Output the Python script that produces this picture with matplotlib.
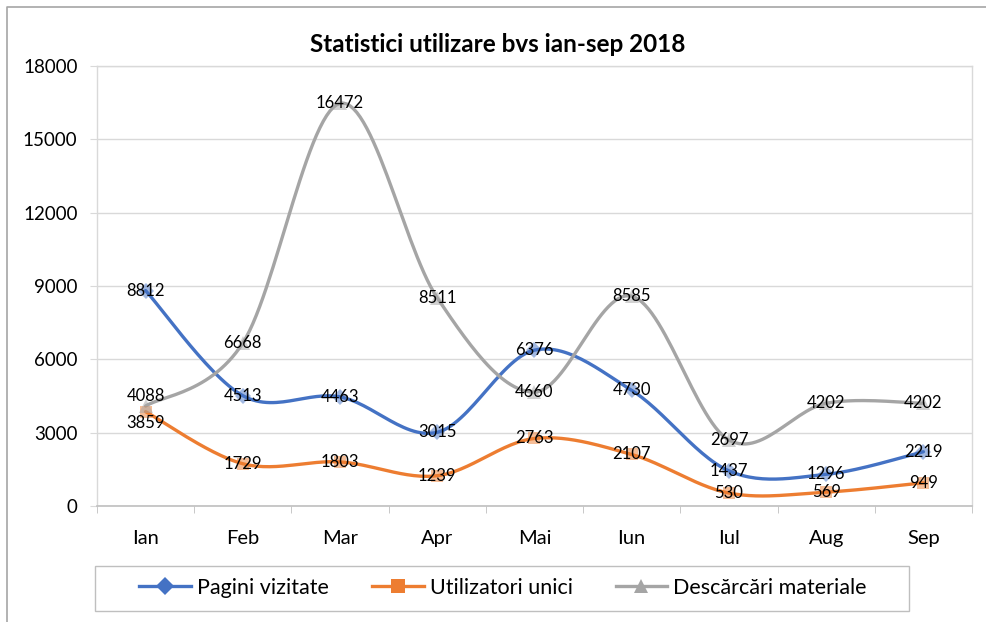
import numpy as np
import matplotlib
matplotlib.use("Agg")
import matplotlib.pyplot as plt
from matplotlib.lines import Line2D
from matplotlib.patches import Rectangle

plt.rcParams["font.family"] = ["Lato", "DejaVu Sans"]

months = ["Ian", "Feb", "Mar", "Apr", "Mai", "Iun", "Iul", "Aug", "Sep"]
pagini = [8812, 4513, 4463, 3015, 6376, 4730, 1437, 1296, 2219]
utilizatori = [3859, 1729, 1803, 1239, 2763, 2107, 530, 569, 949]
descarcari = [4088, 6668, 16472, 8511, 4660, 8585, 2697, 4202, 4202]

series = [
    ("Pagini vizitate", pagini, "#4472C4", "D", 8),
    ("Utilizatori unici", utilizatori, "#ED7D31", "s", 8.5),
    ("Descărcări materiale", descarcari, "#A5A5A5", "^", 9.5),
]

# label nudges (points) where excel moved overlapping labels apart
nudge = {("Utilizatori unici", 0): -8, ("Descărcări materiale", 0): 7}


def smooth(x, y, n=30):
    # excel style bezier smoothing through the points
    x = np.asarray(x, float)
    y = np.asarray(y, float)
    px = np.concatenate([[x[0]], x, [x[-1]]])
    py = np.concatenate([[y[0]], y, [y[-1]]])
    t = np.linspace(0, 1, n)[:, None]
    xs, ys = [], []
    for i in range(1, len(px) - 2):
        p0 = np.array([px[i], py[i]])
        p3 = np.array([px[i + 1], py[i + 1]])
        c1 = p0 + (np.array([px[i + 1], py[i + 1]]) - np.array([px[i - 1], py[i - 1]])) / 6
        c2 = p3 - (np.array([px[i + 2], py[i + 2]]) - np.array([px[i], py[i]])) / 6
        b = ((1 - t) ** 3) * p0 + 3 * ((1 - t) ** 2) * t * c1 + 3 * (1 - t) * t ** 2 * c2 + t ** 3 * p3
        xs.append(b[:, 0])
        ys.append(b[:, 1])
    return np.concatenate(xs), np.concatenate(ys)


fig = plt.figure(figsize=(9.87, 6.22), dpi=100)
ax = fig.add_axes([97 / 987, 1 - 506 / 622, 875 / 987, 440 / 622])

# outer chart frame (cropped on right and bottom)
fig.add_artist(Line2D([7 / 987, 7 / 987, 1.0], [0, 1 - 7 / 622, 1 - 7 / 622],
                      transform=fig.transFigure, color="#A6A6A6", lw=1.2))

x = np.arange(len(months))
handles = []
for name, vals, color, marker, ms in series:
    sx, sy = smooth(x, vals)
    ax.plot(sx, sy, color=color, lw=2.4, solid_capstyle="round", zorder=3)
    ax.plot(x, vals, linestyle="none", marker=marker, ms=ms, color=color,
            alpha=0.5, markeredgewidth=0, zorder=4)
    for i, v in enumerate(vals):
        ax.annotate(str(v), (x[i], v), xytext=(0, nudge.get((name, i), 0)),
                    textcoords="offset points", ha="center", va="center",
                    fontsize=12, color="#000000", zorder=6)
    handles.append(Line2D([], [], color=color, lw=2.4, marker=marker, ms=ms + 1,
                          markeredgewidth=0))

ax.set_xlim(-0.5, len(months) - 0.5)
ax.set_ylim(0, 18000)
ax.set_yticks(range(0, 18001, 3000))
ax.set_xticks(x)
ax.set_xticklabels(months)
ax.set_xticks(np.arange(-0.5, len(months)), minor=True)

ax.grid(axis="y", color="#D9D9D9", lw=1)
ax.set_axisbelow(True)
for side in ["left", "right", "top"]:
    ax.spines[side].set_color("#D9D9D9")
    ax.spines[side].set_linewidth(1)
ax.spines["bottom"].set_color("#BFBFBF")
ax.spines["bottom"].set_linewidth(1.2)

ax.tick_params(axis="y", length=5, color="#D9D9D9", pad=9, labelsize=13.5)
ax.tick_params(axis="x", which="major", length=0, pad=17, labelsize=14.5)
ax.tick_params(axis="x", which="minor", length=5, color="#BFBFBF")

fig.text(498 / 987, 1 - 45 / 622, "Statistici utilizare bvs ian-sep 2018",
         ha="center", va="center", fontsize=17.5, fontweight="bold")

# legend box drawn separately so its padding matches the reference
fig.add_artist(Rectangle((95 / 987, 1 - 611 / 622), 814 / 987, 45 / 622,
                         transform=fig.transFigure, fill=False,
                         edgecolor="#BFBFBF", lw=1))
fig.legend(handles, [s[0] for s in series], loc="center",
           bbox_to_anchor=(503 / 987, 1 - 588 / 622), ncol=3,
           fontsize=15.5, frameon=False, handlelength=2.4,
           handletextpad=0.28, columnspacing=2.0, borderpad=0.3)

fig.savefig("out.png", dpi=100)
